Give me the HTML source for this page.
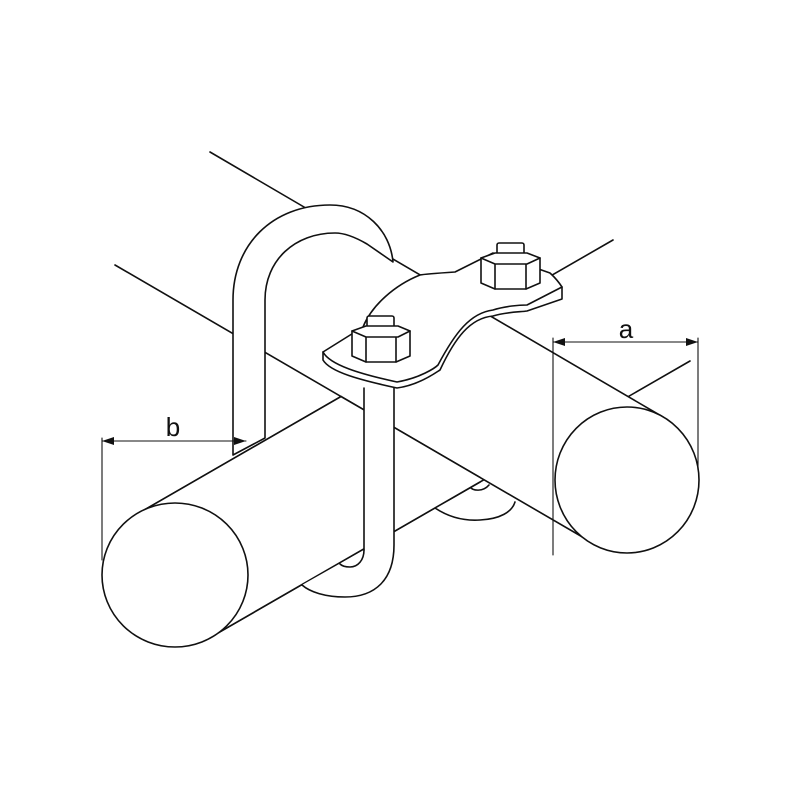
<!DOCTYPE html>
<html><head><style>html,body{margin:0;padding:0;background:#fff}</style></head>
<body>
<svg width="800" height="800" viewBox="0 0 800 800" xmlns="http://www.w3.org/2000/svg">
<g fill="#fff" stroke="#111" stroke-width="1.6" stroke-linejoin="round" stroke-linecap="round">
<!-- pipe 1 (back) -->
<polygon points="139,513 613,240 690,361 211,637" stroke="none"/>
<line x1="139" y1="513" x2="613" y2="240"/>
<line x1="211" y1="637" x2="690" y2="361"/>
<!-- lower lobe of clamp -->
<path d="M435,508 C450,518 465,521 480,520 C500,519 512,512 515,502 L480,485 Z" stroke="none"/>
<path d="M435,508 C450,518 465,521 480,520 C500,519 512,512 515,502" fill="none"/>
<path d="M470,487 C473,491 483,492 489,485" fill="none"/>
<!-- pipe 2 (front) -->
<polygon points="210,152 663,417 591,542 115,265" stroke="none"/>
<line x1="210" y1="152" x2="663" y2="417"/>
<line x1="115" y1="265" x2="591" y2="542"/>
<ellipse cx="627" cy="480" rx="72" ry="73"/>
<!-- strap -->
<path d="M233,455 L233,300 C233,245 272,205 330,205 C365,205 390,230 393,262 L367,244 C355,237 345,233 335,233 C295,233 265,260 265,300 L265,438 Z"/>
<!-- pipe 1 front-left part -->
<path d="M139,513 L341,396.5 L480,477.4 L480,482 L211,637 Z" stroke="none"/>
<line x1="139" y1="513" x2="341" y2="396.5"/>
<line x1="341" y1="396.5" x2="480" y2="477.4"/>
<line x1="211" y1="637" x2="480" y2="482"/>
<ellipse cx="175" cy="575" rx="73" ry="72"/>
<!-- rod -->
<path d="M302,585 L364,550 L364,388 L394,388 L394,545 C394,580 375,597 345,597 C325,597 310,592 302,585 Z" stroke="none"/>
<path d="M364,388 L364,550 M394,388 L394,545 C394,580 375,597 345,597 C325,597 310,592 302,585" fill="none"/>
<path d="M364,550 C364,560 358,567 350,567 C345,567 342,566 340,564" fill="none"/>
<!-- saddle plate -->
<path d="M323,352 L323,360 C330,372 360,380 397,388 C420,385 438,371 440,370 C455,338 470,318 493,316 C505,312 520,312 527,311 L562,299 L562,287 C556,278 552,275 550,273 L493,253 L455,272 C440,273 425,274 420,275 C395,285 372,305 363,327 Z"/>
<path d="M323,352 C330,365 360,374 397,382 C420,378 435,368 438,365 C455,333 470,313 493,310 C505,306 520,305 527,305 L562,287" fill="none"/>
<!-- nut 1 -->
<rect x="367" y="316" width="27" height="22" rx="2"/>
<path d="M352,331 L366,326 L398,326 L410,331 L410,356 L396,362 L366,362 L352,356 Z"/>
<path d="M352,331 L366,337 L398,337 L410,331 M366,337 L366,362 M396,337 L396,362" fill="none"/>
<!-- nut 2 -->
<rect x="497" y="243" width="27" height="22" rx="2"/>
<path d="M481,258 L495,253 L527,253 L540,258 L540,283 L526,289 L495,289 L481,283 Z"/>
<path d="M481,258 L495,264 L527,264 L540,258 M495,264 L495,289 M526,264 L526,289" fill="none"/>
<!-- dimension lines -->
<g stroke-width="1.1" fill="none">
<line x1="102" y1="438" x2="102" y2="560"/>
<line x1="102" y1="441" x2="246" y2="441"/>
<line x1="553" y1="338" x2="553" y2="555"/>
<line x1="698" y1="338" x2="698" y2="470"/>
<line x1="553" y1="342" x2="698" y2="342"/>
</g>
</g>
<g fill="#111">
<polygon points="102,441 114,437 114,445"/>
<polygon points="246,441 234,437 234,445"/>
<polygon points="553,342 565,338 565,346"/>
<polygon points="698,342 686,338 686,346"/>
</g>
<text x="173" y="436" font-family="Liberation Sans, sans-serif" font-size="26" text-anchor="middle" fill="#111">b</text>
<text x="626" y="338" font-family="Liberation Sans, sans-serif" font-size="26" text-anchor="middle" fill="#111">a</text>
</svg>
</body></html>
